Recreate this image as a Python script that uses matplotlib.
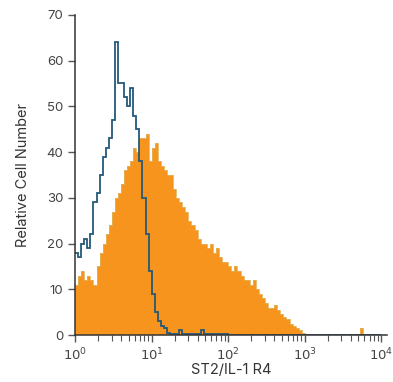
import numpy as np
import matplotlib
matplotlib.use('Agg')
import matplotlib.pyplot as plt

plt.rcParams['font.family'] = ['Inter', 'DejaVu Sans']

# histogram bins: 25 bins per decade from 10^0 to 10^4
bin_edges = 10 ** np.linspace(0, 4, 101)

# stained sample (orange, filled)
stained = [11, 13, 14, 12, 13, 12, 11, 15, 18, 20,
           22, 24, 27, 30, 31, 33, 36, 37, 38, 41,
           40, 43, 43, 44, 38, 41, 42, 38, 37, 36,
           35, 35, 32, 30, 29, 28, 27, 25, 24, 23,
           21, 20, 20, 19, 20, 18, 19, 17, 16, 16,
           15, 14, 15, 14, 13, 12, 12, 11, 12, 10,
           9, 8, 7, 6, 6, 6.5, 5.5, 4.5, 4, 3.5,
           2.5, 2, 1.5, 1, 0.5, 0, 0, 0, 0, 0,
           0, 0, 0, 0, 0, 0, 0, 0, 0, 0,
           0, 0, 0, 1.5, 0, 0, 0, 0, 0, 0]

# isotype control (blue outline)
isotype = [18, 17, 20, 21, 19, 22, 29, 31, 35, 39,
           41, 43, 47, 64, 55, 55, 52, 50, 54, 48,
           45, 38, 30, 22, 14, 9, 5, 3, 2, 1.5,
           0.5, 0.3, 0.3, 0.3, 1, 0.3, 0.3, 0.3, 0.3, 0.3,
           0.3, 1, 0.3, 0.3, 0.2, 0.2, 0.2, 0.2, 0.2, 0.2,
           0.1, 0.1, 0.1, 0.1, 0.1, 0.1, 0.1, 0.1, 0.1, 0.1,
           0.1, 0.1, 0.1, 0.1, 0.1, 0.1, 0.1, 0.1, 0.1, 0.1,
           0.1, 0.1, 0.1, 0.1, 0.1, 0.1, 0.1, 0.1, 0.1, 0.1,
           0.1, 0.1, 0.1, 0.1, 0.1, 0.1, 0.1, 0.1, 0.1, 0.1,
           0.1, 0.1, 0.1, 0.1, 0.1, 0.1, 0.1, 0.1, 0, 0]

fig = plt.figure(figsize=(3.93, 3.82), dpi=100)
ax = fig.add_axes([0.191, 0.123, 0.795, 0.838])

ax.stairs(stained, bin_edges, fill=True, color='#f7941d')
ax.stairs(stained, bin_edges, fill=False, color='#e0b45a', lw=0.6)
ax.stairs(isotype, bin_edges, fill=False, color='#24597a', lw=1.3, baseline=None)

ax.set_xscale('log')
ax.set_xlim(1, 1.2e4)
ax.set_ylim(0, 70)
ax.set_yticks(range(0, 71, 10))
ax.set_xticks([1, 10, 100, 1000, 10000])
ax.set_xticklabels([r'$10^0$', r'$10^1$', r'$10^2$', r'$10^3$', r'$10^4$'])

for s in ['top', 'right']:
    ax.spines[s].set_visible(False)
for s in ['left', 'bottom']:
    ax.spines[s].set_color('#333333')
    ax.spines[s].set_linewidth(1.1)
ax.spines['left'].set_bounds(0, 70)

ax.tick_params(axis='both', which='major', length=5, width=1, color='#555555',
               labelsize=9.5, labelcolor='#444444')
ax.tick_params(axis='x', which='minor', length=4, width=0.8, color='#555555')

ax.set_xlabel('ST2/IL-1 R4', fontsize=10.5, color='#333333', labelpad=0)
ax.set_ylabel('Relative Cell Number', fontsize=10.5, color='#333333', labelpad=12)

fig.savefig('out.png', dpi=100)
